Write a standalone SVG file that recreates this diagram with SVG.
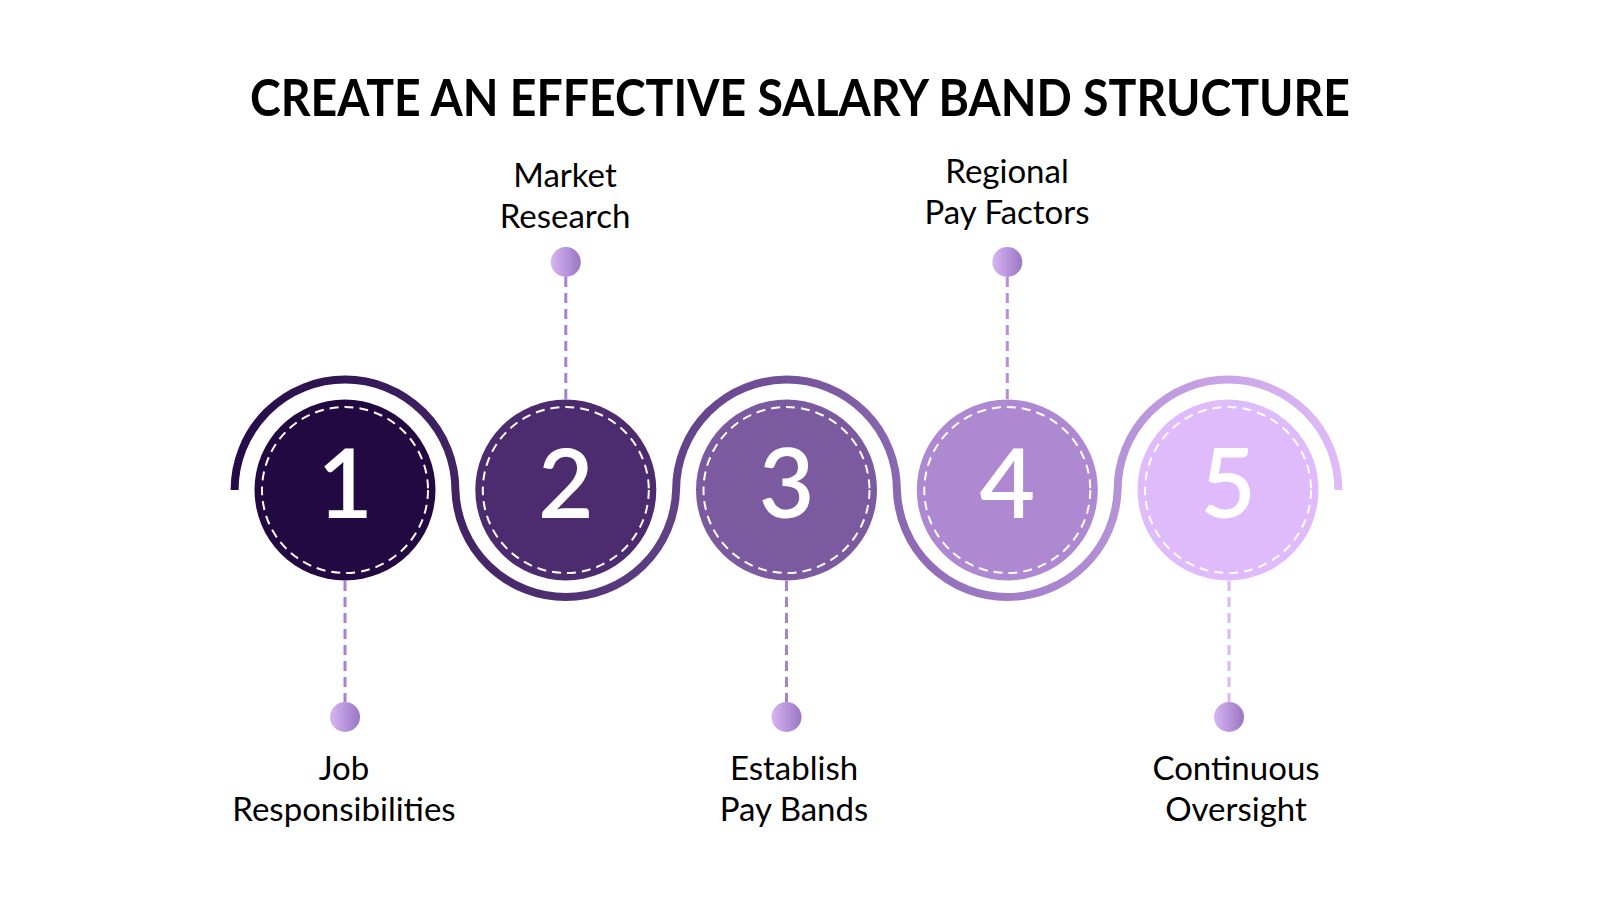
<svg xmlns="http://www.w3.org/2000/svg" width="1600" height="900" viewBox="0 0 1600 900">
  <defs>
    <linearGradient id="waveGrad" gradientUnits="userSpaceOnUse" x1="234" y1="0" x2="1339" y2="0">
      <stop offset="0" stop-color="#250B47"/>
      <stop offset="0.25" stop-color="#48296B"/>
      <stop offset="0.5" stop-color="#73529A"/>
      <stop offset="0.72" stop-color="#A581CB"/>
      <stop offset="1" stop-color="#DFBBF9"/>
    </linearGradient>
    <linearGradient id="dotGrad" x1="0" y1="0" x2="1" y2="0">
      <stop offset="0" stop-color="#D8B5F3"/>
      <stop offset="1" stop-color="#9A76C4"/>
    </linearGradient>
    <style>
      .title { font-family: Lato, "Liberation Sans", sans-serif; font-weight: 700; font-size: 52px; fill: #000; text-anchor: middle; }
      .label { font-family: Lato, "Liberation Sans", sans-serif; font-weight: 400; font-size: 33px; fill: #000; text-anchor: middle; }
      .num { font-family: Lato, "Liberation Sans", sans-serif; font-weight: 600; font-size: 96px; fill: #fff; text-anchor: middle; }
      .ring { fill: none; stroke: #fff; stroke-width: 2; stroke-dasharray: 9 6; }
      .conn { fill: none; stroke-width: 3; stroke-dasharray: 10 6; }
      .dot { fill: url(#dotGrad); }
    </style>
  </defs>

  <rect width="1600" height="900" fill="#fff"/>

  <text class="title" x="800" y="116" textLength="1100" lengthAdjust="spacingAndGlyphs">CREATE AN EFFECTIVE SALARY BAND STRUCTURE</text>

  <g id="connectors">
    <path id="wave" d="M234.6 490 A110.4 110.4 0 0 1 455.4 490 A110.4 110.4 0 0 0 676.1 490 A110.4 110.4 0 0 1 896.9 490 A110.4 110.4 0 0 0 1117.6 490 A110.4 110.4 0 0 1 1338.4 490" fill="none" stroke="url(#waveGrad)" stroke-width="8"/>
    <line class="conn" x1="345" y1="581" x2="345" y2="702" stroke="#A783CF"/>
    <line class="conn" x1="565.8" y1="399" x2="565.8" y2="277" stroke="#A783CF"/>
    <line class="conn" x1="786.5" y1="581" x2="786.5" y2="702" stroke="#A783CF"/>
    <line class="conn" x1="1007.3" y1="399" x2="1007.3" y2="277" stroke="#B48ED6"/>
    <line class="conn" x1="1229" y1="581" x2="1229" y2="702" stroke="#DDB8F7"/>
  </g>

  <g id="node1">
    <circle cx="345" cy="490" r="90.5" fill="#220942"/>
    <circle class="ring" cx="345" cy="490" r="83"/>
    <text class="num" x="345" y="518">1</text>
    <circle class="dot" cx="345" cy="717" r="15"/>
    <text class="label" x="344" y="780">Job</text>
    <text class="label" x="344" y="821">Responsibilities</text>
  </g>

  <g id="node2">
    <circle cx="565.8" cy="490" r="90.5" fill="#4C2C6F"/>
    <circle class="ring" cx="565.8" cy="490" r="83"/>
    <text class="num" x="565.8" y="518">2</text>
    <circle class="dot" cx="565.8" cy="262" r="15"/>
    <text class="label" x="565" y="187">Market</text>
    <text class="label" x="565" y="228">Research</text>
  </g>

  <g id="node3">
    <circle cx="786.5" cy="490" r="90.5" fill="#7B5A9F"/>
    <circle class="ring" cx="786.5" cy="490" r="83"/>
    <text class="num" x="786.5" y="518">3</text>
    <circle class="dot" cx="786.5" cy="717" r="15"/>
    <text class="label" x="794" y="780">Establish</text>
    <text class="label" x="794" y="821">Pay Bands</text>
  </g>

  <g id="node4">
    <circle cx="1007.3" cy="490" r="90.5" fill="#AE89D1"/>
    <circle class="ring" cx="1007.3" cy="490" r="83"/>
    <text class="num" x="1007.3" y="518">4</text>
    <circle class="dot" cx="1007.3" cy="262" r="15"/>
    <text class="label" x="1007" y="183">Regional</text>
    <text class="label" x="1007" y="224">Pay Factors</text>
  </g>

  <g id="node5">
    <circle cx="1228" cy="490" r="90.5" fill="#E0BBFB"/>
    <circle class="ring" cx="1228" cy="490" r="83"/>
    <text class="num" x="1228" y="518">5</text>
    <circle class="dot" cx="1229" cy="717" r="15"/>
    <text class="label" x="1236" y="780">Continuous</text>
    <text class="label" x="1236" y="821">Oversight</text>
  </g>
</svg>
